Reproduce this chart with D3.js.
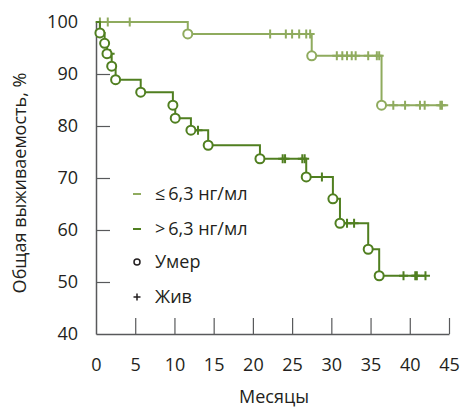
<!DOCTYPE html>
<html>
<head>
<meta charset="utf-8">
<script src="https://cdn.jsdelivr.net/npm/d3@7"></script>
<style>
  body { margin: 0; background: #fff; }
  svg text { font-family: "Open Sans", sans-serif; fill: #231f20; }
</style>
</head>
<body>
<svg width="463" height="410"></svg>
<script>
var width = 463,
    height = 410,
    lightColor = "#8fab5e",
    darkColor = "#507f20";

// group <= 6.3 ng/ml
var lowEventTimes = [11.7, 27.5, 36.4],
    lowEventSurv = [97.7, 93.5, 84.0],
    lowCensored = [0.5, 1.5, 4.3, 22.2, 24.2, 25.0, 25.9, 26.8, 27.3, 30.7, 31.4, 32.0, 32.6, 33.1, 34.7, 35.8, 36.1, 37.9, 39.4, 41.3, 41.9, 43.9, 44.1],
    lowEnd = 44.9;

// group > 6.3 ng/ml
var highEventTimes = [0.5, 1.1, 1.4, 2.0, 2.5, 5.7, 9.8, 10.1, 12.1, 14.3, 20.9, 26.8, 30.2, 31.1, 34.7, 36.1],
    highEventSurv = [97.9, 95.9, 93.9, 91.5, 88.9, 86.5, 84.0, 81.5, 79.2, 76.3, 73.7, 70.2, 66.0, 61.3, 56.3, 51.2],
    highCensored = [1.8, 13.0, 23.8, 24.1, 26.3, 26.6, 28.8, 32.0, 32.9, 39.2, 40.7, 40.9, 42.0],
    highEnd = 42.0;

var xTicks = [0, 5, 10, 15, 20, 25, 30, 35, 40, 45],
    yTicks = [40, 50, 60, 70, 80, 90, 100];

var svg = d3.select("svg");

var x = d3.scaleLinear().domain([0, 45]).range([96, 449]);
var y = d3.scaleLinear().domain([40, 100]).range([334, 22]);

function survAt(times, surv, t) {
  var v = 100;
  times.forEach(function(et, i) { if (et <= t) v = surv[i]; });
  return v;
}

function stepPoints(times, surv, end) {
  var pts = [[0, 100]];
  times.forEach(function(t, i) { pts.push([t, surv[i]]); });
  pts.push([end, surv[surv.length - 1]]);
  return pts;
}

var line = d3.line()
    .x(function(d) { return x(d[0]); })
    .y(function(d) { return y(d[1]); })
    .curve(d3.curveStepAfter);

// axes
var xAxis = svg.append("g")
    .attr("transform", "translate(0," + y(40) + ")")
    .call(d3.axisBottom(x).tickValues(xTicks).tickSize(-16).tickSizeOuter(0).tickPadding(24));
var yAxis = svg.append("g")
    .attr("transform", "translate(" + x(0) + ",0)")
    .call(d3.axisLeft(y).tickValues(yTicks).tickSize(-14).tickSizeOuter(0).tickPadding(18));

[xAxis, yAxis].forEach(function(a) {
  a.select(".domain").attr("stroke", "#58595b").attr("stroke-width", 1.5);
  a.selectAll(".tick line").attr("stroke", "#58595b").attr("stroke-width", 1.2);
  a.selectAll(".tick text").style("font-size", "18px").attr("fill", "#231f20");
});
xAxis.selectAll(".tick").filter(function(d) { return d === 0; }).select("line").remove();
yAxis.selectAll(".tick").filter(function(d) { return d === 40 || d === 100; }).select("line").remove();

svg.append("text")
    .attr("transform", "translate(26," + 183 + ")rotate(-90)")
    .attr("text-anchor", "middle")
    .style("font-size", "18px")
    .text("Общая выживаемость, %");

svg.append("text")
    .attr("x", 274)
    .attr("y", 403)
    .attr("text-anchor", "middle")
    .style("font-size", "18px")
    .text("Месяцы");

var series = [
  {times: lowEventTimes, surv: lowEventSurv, censored: lowCensored, end: lowEnd, color: lightColor},
  {times: highEventTimes, surv: highEventSurv, censored: highCensored, end: highEnd, color: darkColor}
];

series.forEach(function(s) {
  var g = svg.append("g");
  g.append("path")
      .attr("d", line(stepPoints(s.times, s.surv, s.end)))
      .attr("fill", "none")
      .attr("stroke", s.color)
      .attr("stroke-width", 2);

  g.selectAll(".cens")
    .data(s.censored)
    .enter().append("path")
      .attr("class", "cens")
      .attr("transform", function(t) { return "translate(" + x(t) + "," + y(survAt(s.times, s.surv, t)) + ")"; })
      .attr("d", "M-4.5,0H4.5M0,-4.5V4.5")
      .attr("stroke", s.color)
      .attr("stroke-width", 2);

  g.selectAll("circle")
    .data(s.times)
    .enter().append("circle")
      .attr("cx", function(t) { return x(t); })
      .attr("cy", function(t, i) { return y(s.surv[i]); })
      .attr("r", 4.5)
      .attr("fill", "#fff")
      .attr("stroke", s.color)
      .attr("stroke-width", 2);
});

// legend
var legend = svg.append("g").attr("transform", "translate(133,0)");
var legendLabels = ["\u2264\u20096,3 нг/мл", ">\u20096,3 нг/мл", "Умер", "Жив"];
var legendY = [194, 229, 262, 297];

legend.selectAll("text")
  .data(legendLabels)
  .enter().append("text")
    .attr("x", 22)
    .attr("y", function(d, i) { return legendY[i]; })
    .attr("dy", "0.35em")
    .style("font-size", "18px")
    .text(function(d) { return d; });

legend.append("line").attr("x1", 0).attr("x2", 8).attr("y1", legendY[0]).attr("y2", legendY[0])
    .attr("stroke", lightColor).attr("stroke-width", 2);
legend.append("line").attr("x1", 0).attr("x2", 8).attr("y1", legendY[1]).attr("y2", legendY[1])
    .attr("stroke", darkColor).attr("stroke-width", 2);
legend.append("circle").attr("cx", 4).attr("cy", legendY[2]).attr("r", 3)
    .attr("fill", "none").attr("stroke", "#231f20").attr("stroke-width", 1.5);
legend.append("path").attr("transform", "translate(4," + legendY[3] + ")")
    .attr("d", "M-3.5,0H3.5M0,-3.5V3.5").attr("stroke", "#231f20").attr("stroke-width", 1.5);
</script>
</body>
</html>
